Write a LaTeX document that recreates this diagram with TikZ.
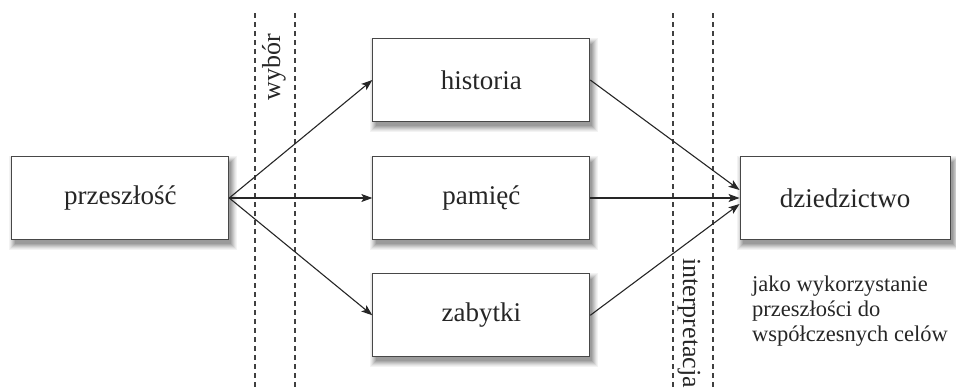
\documentclass[tikz,border=0pt]{standalone}
\usepackage{fontspec}
\setmainfont{Liberation Serif}
\usetikzlibrary{arrows.meta}

\definecolor{ink}{HTML}{262626}
\definecolor{sepgray}{HTML}{404040}
\definecolor{shadowA}{RGB}{243,243,243}
\definecolor{shadowB}{RGB}{232,232,232}
\definecolor{shadowC}{RGB}{218,218,218}
\definecolor{shadowD}{RGB}{202,202,202}
\definecolor{shadowE}{RGB}{186,186,186}
\definecolor{shadowF}{RGB}{170,170,170}
\definecolor{shadowG}{RGB}{155,155,155}
\definecolor{boxfill}{RGB}{255,255,255}

\tikzset{
  stagebox/.style={draw=ink!85, line width=0.9pt, fill=boxfill, text=ink,
    minimum width=217pt, minimum height=83pt, inner sep=0pt,
    font=\fontsize{27}{32}\selectfont},
  flow/.style={draw=ink, line width=1.1pt,
    -{Stealth[length=11pt, width=8pt, inset=2.5pt]}},
  sepline/.style={draw=sepgray, line width=1.1pt, dash pattern=on 5pt off 4pt},
  sidelabel/.style={text=ink, inner sep=0pt, font=\fontsize{26}{30}\selectfont},
  notetext/.style={text=ink, inner sep=0pt, align=left,
    font=\fontsize{22.5}{25}\selectfont},
  shadowband/.style={draw=#1, fill=#1, line width=1.3pt}
}

% one ring of a drop shadow: box centre (#1,#2), size #3 x #4, spread #5, colour #6
\newcommand\shadowring[6]{%
  \path[shadowband=#6] (#1-#3/2+5-#5,#2-#4/2+7-#5) rectangle (#1+#3/2+1+#5,#2+#4/2+3+#5);%
}
% soft drop shadow, outermost ring lightest
\newcommand\boxshadow[4]{%
  \shadowring{#1}{#2}{#3}{#4}{7}{shadowA}%
  \shadowring{#1}{#2}{#3}{#4}{6}{shadowB}%
  \shadowring{#1}{#2}{#3}{#4}{5}{shadowC}%
  \shadowring{#1}{#2}{#3}{#4}{4}{shadowD}%
  \shadowring{#1}{#2}{#3}{#4}{3}{shadowE}%
  \shadowring{#1}{#2}{#3}{#4}{2}{shadowF}%
  \shadowring{#1}{#2}{#3}{#4}{1}{shadowG}%
}

\begin{document}
\begin{tikzpicture}[x=1pt, y=-1pt]
  \useasboundingbox (0,0) rectangle (956,389);

  % stage boundaries
  \coordinate (s1t) at (255,13);  \coordinate (s1b) at (255,389);
  \coordinate (s2t) at (295,13);  \coordinate (s2b) at (295,389);
  \coordinate (s3t) at (673,13);  \coordinate (s3b) at (673,389);
  \coordinate (s4t) at (713,13);  \coordinate (s4b) at (713,389);
  \draw[sepline] (s1t) -- (s1b);
  \draw[sepline] (s2t) -- (s2b);
  \draw[sepline] (s3t) -- (s3b);
  \draw[sepline] (s4t) -- (s4b);

  % shadows under the boxes
  \boxshadow{120.3}{198}{217}{83}
  \boxshadow{481.3}{80}{217}{83}
  \boxshadow{481.3}{198}{217}{83}
  \boxshadow{481.3}{315.3}{217}{83}
  \boxshadow{845}{198}{210}{83}

  % boxes
  \node[stagebox] (past) at (120.3,198) {przeszłość};
  \node[stagebox] (hist) at (481.3,80) {historia};
  \node[stagebox] (mem)  at (481.3,198) {pamięć};
  \node[stagebox] (mon)  at (481.3,315.3) {zabytki};
  \node[stagebox, minimum width=210pt] (her) at (845,198) {dziedzictwo};

  \begin{scope}
    \clip (0,0) rectangle (956,389);
    \node[sidelabel, rotate=90, anchor=base] (wyb) at (280,67) {wybór};
    \node[sidelabel, rotate=-90, anchor=base west] (interp) at (683,258) {interpretacja};
  \end{scope}

  % connectors
  \draw[flow] (past.east) -- (hist.west);
  \draw[flow] (past.east) -- (mem.west);
  \draw[flow] (past.east) -- (mon.west);
  \draw[flow] (hist.east) -- ([yshift=8pt]her.west);
  \draw[flow] (mem.east) -- (her.west);
  \draw[flow] (mon.east) -- ([yshift=-6pt]her.west);

  \node[notetext, anchor=north west] (note) at (752,276)
    {jako wykorzystanie\\przeszłości do\\współczesnych celów};
\end{tikzpicture}
\end{document}
